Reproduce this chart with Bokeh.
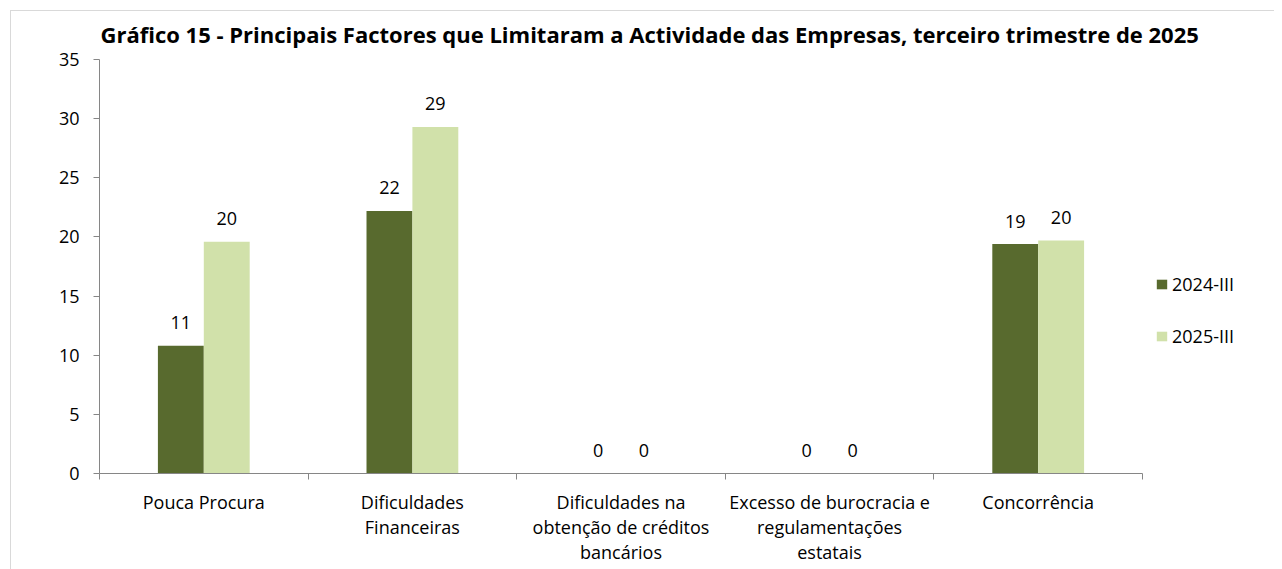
from bokeh.plotting import figure
from bokeh.models import (ColumnDataSource, FixedTicker, Range1d, Legend, LegendItem,
                          Title, InlineStyleSheet)
from bokeh.core.properties import value
from bokeh.embed import file_html
from bokeh.resources import INLINE

title_text = "Gráfico 15 - Principais Factores que Limitaram a Actividade das Empresas, terceiro trimestre de 2025"
categories = ["Pouca Procura", "Dificuldades\nFinanceiras",
              "Dificuldades na\nobtenção de créditos\nbancários",
              "Excesso de burocracia e\nregulamentações\nestatais", "Concorrência"]
series_names = ["2024-III", "2025-III"]
values_2024 = [10.8, 22.2, 0.0, 0.0, 19.4]
values_2025 = [19.6, 29.3, 0.0, 0.0, 19.7]
y_ticks = [0, 5, 10, 15, 20, 25, 30, 35]

FONT = "Open Sans"
DARK = "#586A2E"
LIGHT = "#D1E1AA"
AXIS = "#868686"

W, H = 1274, 569
LEFT, RIGHT, TOP, BOTTOM = 99, 10, 59, 96
ncat = len(categories)
frame_w = W - LEFT - RIGHT
cat_px = 208.6
x_end = frame_w / cat_px

bw = 0.22
centers = [i + 0.5 for i in range(ncat)]
src1 = ColumnDataSource(dict(x=[c - bw / 2 for c in centers], top=values_2024,
                             lab=[str(int(round(v))) for v in values_2024]))
src2 = ColumnDataSource(dict(x=[c + bw / 2 for c in centers], top=values_2025,
                             lab=[str(int(round(v))) for v in values_2025]))

p = figure(width=W, height=H, output_backend="svg", toolbar_location=None,
           x_range=Range1d(0, x_end), y_range=Range1d(0, 35),
           min_border_left=LEFT, min_border_right=RIGHT,
           min_border_top=TOP, min_border_bottom=BOTTOM)
p.outline_line_color = None
p.xgrid.visible = False
p.ygrid.visible = False
p.background_fill_color = "white"
p.border_fill_color = "white"

r1 = p.vbar(x="x", top="top", width=bw, source=src1, fill_color=DARK, line_color=None)
r2 = p.vbar(x="x", top="top", width=bw, source=src2, fill_color=LIGHT, line_color=None)

for s in (src1, src2):
    p.text(x="x", y="top", text="lab", source=s, text_align="center",
           text_baseline="middle", y_offset=-23, text_font=value(FONT),
           text_font_size="18px", text_color="black")

# x axis
xa = p.xaxis[0]
xa.ticker = FixedTicker(ticks=centers, minor_ticks=list(range(ncat + 1)))
xa.major_label_overrides = {c: lab for c, lab in zip(centers, categories)}
xa.bounds = (0, ncat)
xa.axis_line_color = AXIS
xa.major_tick_out = 0
xa.major_tick_in = 0
xa.minor_tick_out = 6
xa.minor_tick_in = 0
xa.minor_tick_line_color = AXIS
xa.major_label_standoff = 10
xa.major_label_text_font = FONT
xa.major_label_text_font_size = "18px"
xa.major_label_text_color = "black"
xa.major_label_text_line_height = 1.06

# y axis
ya = p.yaxis[0]
ya.ticker = FixedTicker(ticks=y_ticks, minor_ticks=[])
ya.axis_line_color = AXIS
ya.major_tick_line_color = AXIS
ya.major_tick_out = 6
ya.major_tick_in = 0
ya.minor_tick_line_color = None
ya.major_label_standoff = 14
ya.major_label_text_font = FONT
ya.major_label_text_font_size = "18px"
ya.major_label_text_color = "black"

legend = Legend(items=[LegendItem(label=series_names[0], renderers=[r1]),
                       LegendItem(label=series_names[1], renderers=[r2])],
                location=(1056, 125), orientation="vertical",
                glyph_width=13, glyph_height=12, label_standoff=4,
                label_height=20, spacing=28, padding=0, margin=0,
                border_line_color=None, background_fill_alpha=0,
                label_text_font=FONT, label_text_font_size="18px",
                label_text_color="black")
p.add_layout(legend)

p.add_layout(Title(text=title_text, align="left", offset=1, text_font=FONT,
                   text_font_size="22px", text_font_style="bold",
                   text_color="black", standoff=22), "above")

p.stylesheets = [InlineStyleSheet(css=(
    ":host::after { content: ''; position: absolute; left: 10px; top: 10px; "
    "right: 0px; bottom: 0px; border-left: 1px solid #D9D9D9; "
    "border-top: 1px solid #D9D9D9; pointer-events: none; }"))]

open("out.html", "w").write(file_html(p, INLINE))
